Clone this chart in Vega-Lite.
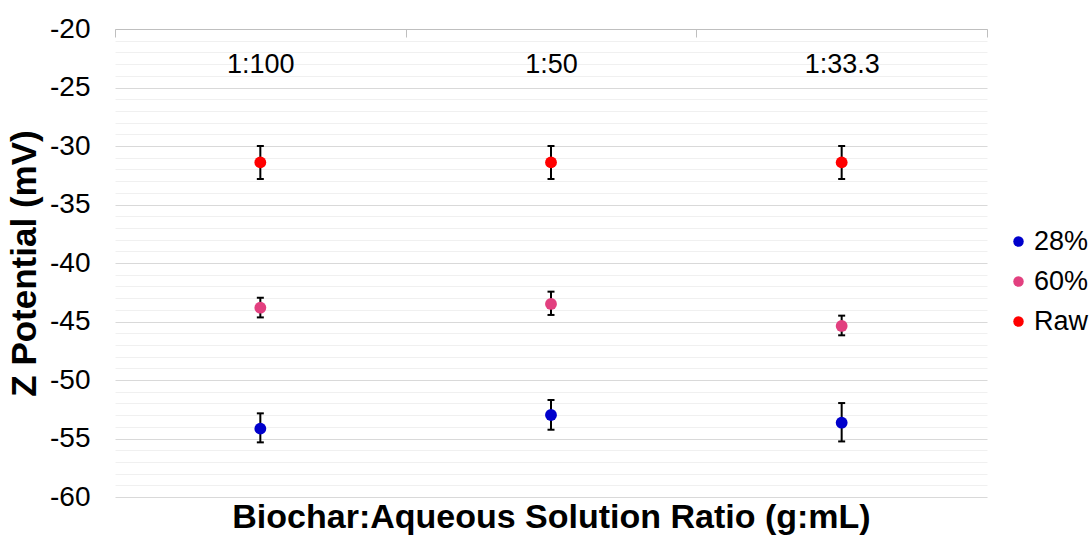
{
  "$schema": "https://vega.github.io/schema/vega-lite/v6.json",
  "width": 872,
  "height": 468,
  "autosize": "none",
  "padding": {"left": 115, "top": 29, "right": 105, "bottom": 39},
  "config": {"view": {"stroke": null}, "font": "Liberation Sans"},
  "data": {
    "values": [
      {"ratio": "1:100", "series": "28%", "mean": -54.16, "lo": -55.33, "hi": -52.85},
      {"ratio": "1:50", "series": "28%", "mean": -52.99, "lo": -54.25, "hi": -51.71},
      {"ratio": "1:33.3", "series": "28%", "mean": -53.65, "lo": -55.25, "hi": -51.97},
      {"ratio": "1:100", "series": "60%", "mean": -43.82, "lo": -44.65, "hi": -42.97},
      {"ratio": "1:50", "series": "60%", "mean": -43.5, "lo": -44.44, "hi": -42.45},
      {"ratio": "1:33.3", "series": "60%", "mean": -45.38, "lo": -46.18, "hi": -44.5},
      {"ratio": "1:100", "series": "Raw", "mean": -31.4, "lo": -32.82, "hi": -30.0},
      {"ratio": "1:50", "series": "Raw", "mean": -31.4, "lo": -32.82, "hi": -30.0},
      {"ratio": "1:33.3", "series": "Raw", "mean": -31.4, "lo": -32.82, "hi": -30.0}
    ]
  },
  "encoding": {
    "x": {
      "field": "ratio",
      "type": "nominal",
      "sort": ["1:100", "1:50", "1:33.3"],
      "scale": {"type": "band", "paddingInner": 0, "paddingOuter": 0},
      "axis": {
        "orient": "top",
        "title": "Biochar:Aqueous Solution Ratio (g:mL)",
        "titleFontSize": 34,
        "titleFontWeight": "bold",
        "titleColor": "#000000",
        "titleX": 436,
        "titleY": 498,
        "titleAlign": "center",
        "titleBaseline": "alphabetic",
        "titleAngle": 0,
        "labelFontSize": 27,
        "labelColor": "#000000",
        "labelAngle": 0,
        "labelBaseline": "alphabetic",
        "labelPadding": -35,
        "tickSize": -8,
        "tickColor": "#bfbfbf",
        "tickWidth": 1,
        "domainColor": "#bfbfbf",
        "domainWidth": 1,
        "tickBand": "extent",
        "grid": false
      }
    }
  },
  "layer": [
    {
      "mark": {"type": "rule", "color": "#000000", "strokeWidth": 2},
      "encoding": {
        "y": {
          "field": "lo",
          "type": "quantitative",
          "scale": {"domain": [-60, -20], "nice": false, "zero": false},
          "axis": {
            "title": "Z Potential (mV)",
            "titleFontSize": 35,
            "titleFontWeight": "bold",
            "titleColor": "#000000",
            "titleAngle": 270,
            "titleX": -80,
            "titleY": 234,
            "titleAlign": "center",
            "titleBaseline": "alphabetic",
            "values": [-60, -59, -58, -57, -56, -55, -54, -53, -52, -51, -50, -49, -48, -47, -46, -45, -44, -43, -42, -41, -40, -39, -38, -37, -36, -35, -34, -33, -32, -31, -30, -29, -28, -27, -26, -25, -24, -23, -22, -21, -20],
            "tickCount": 100,
            "labelExpr": "datum.value % 5 === 0 ? '' + datum.value : ''",
            "labelFontSize": 28,
            "labelColor": "#000000",
            "labelPadding": 25,
            "labelOverlap": false,
            "ticks": false,
            "domain": false,
            "grid": true,
            "gridColor": {"condition": {"test": "datum.value % 5 === 0", "value": "#d9d9d9"}, "value": "#f0f0f0"},
            "gridWidth": 1
          }
        },
        "y2": {"field": "hi"}
      }
    },
    {
      "mark": {"type": "tick", "color": "#000000", "thickness": 2, "size": 7, "opacity": 1},
      "encoding": {"y": {"field": "lo", "type": "quantitative"}}
    },
    {
      "mark": {"type": "tick", "color": "#000000", "thickness": 2, "size": 7, "opacity": 1},
      "encoding": {"y": {"field": "hi", "type": "quantitative"}}
    },
    {
      "mark": {"type": "point", "filled": true, "shape": "circle", "size": 140, "opacity": 1},
      "encoding": {
        "y": {"field": "mean", "type": "quantitative"},
        "color": {
          "field": "series",
          "type": "nominal",
          "scale": {"domain": ["28%", "60%", "Raw"], "range": ["#0000cc", "#e2407f", "#ff0000"]},
          "legend": {
            "title": null,
            "orient": "none",
            "legendX": 890,
            "legendY": 199,
            "padding": 0,
            "symbolType": "circle",
            "symbolSize": 110,
            "symbolStrokeWidth": 0,
            "symbolOpacity": 1,
            "labelFontSize": 27,
            "labelColor": "#000000",
            "labelOffset": 2,
            "rowPadding": 12
          }
        }
      }
    }
  ]
}
